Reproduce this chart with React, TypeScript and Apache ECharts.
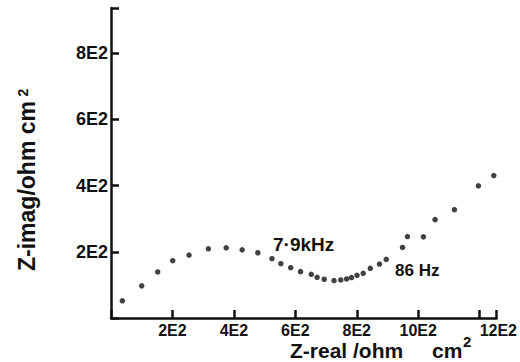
import React, { useEffect, useRef } from "react";
import * as echarts from "echarts";

const zReal = [37, 100, 152, 201, 254, 317, 375, 427, 478, 524, 553, 585, 617, 652, 671, 694, 726, 748, 767, 783, 801, 821, 844, 874, 896, 949, 965, 1017, 1055, 1118, 1196, 1246];
const zImag = [52, 97, 139, 173, 190, 209, 212, 206, 197, 179, 164, 152, 140, 132, 123, 117, 113, 115, 118, 122, 129, 135, 150, 163, 177, 213, 246, 245, 297, 327, 399, 430];
const xTicks = [200, 400, 600, 800, 1000, 1200];
const yTicks = [200, 400, 600, 800];
const xTitleMain = "Z-real /ohm";
const xTitleUnit = "cm";
const yTitle = "Z-imag/ohm cm";
const sup = "2";
const noteHigh = "7·9kHz";
const noteLow = "86 Hz";

const FONT = "'Liberation Sans', Arial, sans-serif";
const INK = "#111";

function fmt(v: number): string {
  return v / 100 + "E2";
}

export default function App() {
  const ref = useRef<HTMLDivElement>(null);
  useEffect(() => {
    if (!ref.current) return;
    const chart = echarts.init(ref.current, undefined, { renderer: "svg" });
    const data = zReal.map((x, i) => [x, zImag[i]]);
    const lastX = xTicks[xTicks.length - 1];
    const labelFont = { color: INK, fontFamily: FONT, fontSize: 16, fontWeight: "bold" as const };
    chart.setOption({
      animation: false,
      backgroundColor: "#fff",
      grid: { left: 111, top: 8, width: 391, height: 310 },
      xAxis: [
        {
          type: "value",
          position: "bottom",
          min: 0,
          max: 1255,
          interval: 200,
          splitLine: { show: false },
          axisLine: { show: true, lineStyle: { color: INK, width: 2.5 } },
          axisTick: { show: true, inside: true, length: 8, lineStyle: { color: INK, width: 2.5 } },
          axisLabel: {
            margin: 5,
            lineHeight: 14,
            ...labelFont,
            formatter: (v: number) => (xTicks.indexOf(v) < 0 || v === lastX ? "" : fmt(v)),
          },
        },
        {
          type: "value",
          position: "bottom",
          min: 0,
          max: 1255,
          interval: 200,
          splitLine: { show: false },
          axisLine: { show: false },
          axisTick: { show: false },
          axisLabel: {
            margin: 5,
            lineHeight: 14,
            align: "left",
            ...labelFont,
            formatter: (v: number) => (v === lastX ? fmt(v) : ""),
          },
        },
      ],
      yAxis: {
        type: "value",
        min: 0,
        max: 936,
        interval: 200,
        splitLine: { show: false },
        axisLine: { show: true, lineStyle: { color: INK, width: 2.5 } },
        axisTick: { show: true, inside: true, length: 8, lineStyle: { color: INK, width: 2.5 } },
        axisLabel: {
          margin: 3,
          ...labelFont,
          fontSize: 18,
          formatter: (v: number) => (yTicks.indexOf(v) < 0 ? "" : fmt(v)),
        },
      },
      series: [
        {
          type: "scatter",
          xAxisIndex: 0,
          yAxisIndex: 0,
          data,
          symbol: "circle",
          symbolSize: 5.5,
          itemStyle: { color: INK },
        },
      ],
      graphic: [
        {
          type: "text",
          x: 290,
          y: 350,
          style: { text: xTitleMain, fill: INK, font: "bold 21px " + FONT, align: "left", verticalAlign: "middle" },
        },
        {
          type: "text",
          x: 432,
          y: 350,
          style: { text: xTitleUnit, fill: INK, font: "bold 21px " + FONT, align: "left", verticalAlign: "middle" },
        },
        {
          type: "text",
          x: 463,
          y: 341,
          style: { text: sup, fill: INK, font: "bold 15px " + FONT, align: "left", verticalAlign: "middle" },
        },
        {
          type: "text",
          x: 27,
          y: 186,
          rotation: Math.PI / 2,
          style: { text: yTitle, fill: INK, font: "bold 23px " + FONT, align: "center", verticalAlign: "middle" },
        },
        {
          type: "text",
          x: 22.5,
          y: 92.5,
          rotation: Math.PI / 2,
          style: { text: sup, fill: INK, font: "bold 14px " + FONT, align: "center", verticalAlign: "middle" },
        },
        {
          type: "text",
          x: 273,
          y: 244,
          style: { text: noteHigh, fill: INK, font: "bold 19px " + FONT, align: "left", verticalAlign: "middle" },
        },
        {
          type: "text",
          x: 395,
          y: 270.5,
          style: { text: noteLow, fill: INK, font: "bold 17px " + FONT, align: "left", verticalAlign: "middle" },
        },
      ],
    });
    return () => chart.dispose();
  }, []);
  return (
    <div
      ref={ref}
      style={{ position: "fixed", left: 0, top: 0, width: 520, height: 362, background: "#fff" }}
    />
  );
}
